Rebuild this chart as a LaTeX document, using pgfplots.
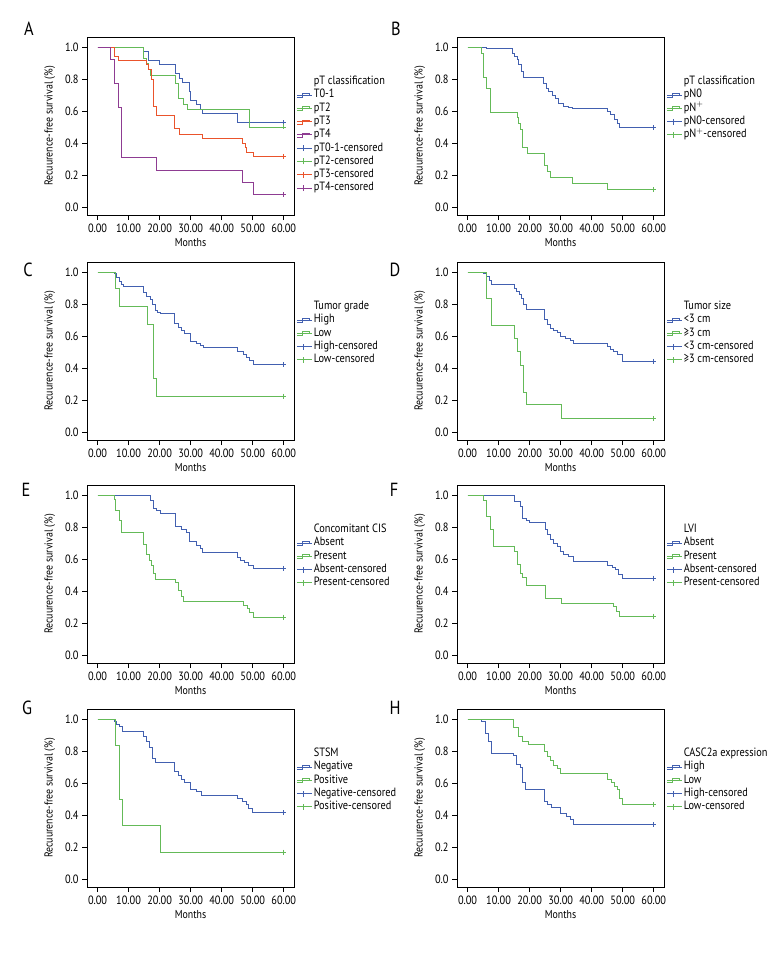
\documentclass[border=0pt]{standalone}
\usepackage{fontspec}
\setmainfont{PT Sans}[FakeStretch=0.86]
\usepackage{pgfplots}
\pgfplotsset{compat=1.18}
\definecolor{kmblue}{RGB}{66,96,176}
\definecolor{kmgreen}{RGB}{100,186,88}
\definecolor{kmred}{RGB}{234,84,44}
\definecolor{kmpurple}{RGB}{142,60,146}
\pgfplotsset{
 kmaxis/.style={scale only axis, width=207pt, height=178pt, anchor=north west,
  xmin=-3.4, xmax=63.3, ymin=-0.05, ymax=1.0625,
  xtick={0,10,20,30,40,50,60}, ytick={0,0.2,0.4,0.6,0.8,1},
  axis x line*=box, axis y line*=box,
  xtick pos=bottom, ytick pos=left, tick align=outside, major tick length=5pt,
  tick style={black, line width=0.6pt}, axis line style={black, line width=0.7pt},
  /pgf/number format/assume math mode=true,
  xticklabel style={/pgf/number format/.cd, fixed, fixed zerofill, precision=2},
  yticklabel style={/pgf/number format/.cd, fixed, fixed zerofill, precision=1},
  ticklabel style={font=\fontsize{12}{13}\selectfont},
  xlabel={Months}, ylabel={Recuurence-free survival (\%)},
  label style={font=\fontsize{11.5}{12}\selectfont},
  xlabel style={at={(axis description cs:0.5,-0.157)}, anchor=center},
  ylabel style={at={(axis description cs:-0.18,0.5)}, anchor=center},
  legend style={draw=none, fill=none, at={(axis description cs:1,1)}, anchor=north west,
   xshift=3pt, yshift=-38pt, inner sep=0pt, outer sep=0pt, column sep=0pt,
   font=\fontsize{12}{13}\selectfont,
   nodes={inner sep=1pt, text height=8.5pt, text depth=2.8pt}},
  legend cell align=left,
 },
 kmline/.style={const plot, no marks, line width=0.8pt, #1, forget plot},
 kmend/.style={only marks, mark=+, mark size=2.5pt, #1, mark options={line width=0.7pt}, forget plot},
 kmstep/.style={legend image code/.code={\path (0pt,0pt) -- (15pt,0pt); \draw[##1] (0pt,-2.5pt) -- (5pt,-2.5pt) -- (5pt,1.5pt) -- (12pt,1.5pt) -- (12pt,-0.5pt);}},
 kmcens/.style={legend image code/.code={\path (0pt,0pt) -- (15pt,0pt); \draw[##1] (0pt,0pt) -- (12pt,0pt); \draw[##1] (6pt,-3pt) -- (6pt,3pt);}},
}
\begin{document}
\begin{tikzpicture}
\useasboundingbox (0,0) rectangle (780pt,-960pt);
\tikzset{letter/.style={font=\fontsize{19}{20}\selectfont, anchor=center}}
\node[letter] at (29pt,-29pt) {A};
\node[letter] at (396pt,-29pt) {B};
\node[letter] at (28pt,-270pt) {C};
\node[letter] at (395pt,-270pt) {D};
\node[letter] at (26pt,-490pt) {E};
\node[letter] at (394pt,-490pt) {F};
\node[letter] at (27pt,-708pt) {G};
\node[letter] at (395pt,-708pt) {H};

% ---------------- A
\begin{axis}[kmaxis, at={(87pt,-37pt)}]
\addplot[kmline=kmblue] coordinates {(0,1)(14.9,0.972)(16.5,0.917)(20,0.889)(25.2,0.833)(26.5,0.806)(27.4,0.778)(29.5,0.722)(29.8,0.667)(31.9,0.639)(33,0.611)(33.8,0.583)(45,0.527)(60,0.527)};
\addplot[kmline=kmgreen] coordinates {(0,1)(14.9,0.931)(15.6,0.897)(16.3,0.862)(17.1,0.821)(25.2,0.77)(26,0.68)(27.6,0.64)(28.9,0.607)(48.8,0.5)(60,0.5)};
\addplot[kmline=kmred] coordinates {(0,1)(5.4,0.94)(6.7,0.917)(15.8,0.89)(16.5,0.86)(17.2,0.80)(18.1,0.63)(19,0.573)(24.7,0.49)(26.5,0.456)(33.8,0.43)(46.7,0.40)(47.5,0.373)(48,0.34)(50.1,0.317)(60,0.317)};
\addplot[kmline=kmpurple] coordinates {(0,1)(4.3,0.925)(5.4,0.77)(6.7,0.62)(7.7,0.31)(19,0.23)(46.7,0.154)(50.1,0.077)(60,0.077)};
\addplot[kmend=kmblue] coordinates {(60,0.527)};
\addplot[kmend=kmgreen] coordinates {(60,0.5)};
\addplot[kmend=kmred] coordinates {(60,0.317)};
\addplot[kmend=kmpurple] coordinates {(60,0.077)};
\addlegendimage{empty legend}\addlegendentry{pT classification}
\addlegendimage{kmstep, kmblue, line width=0.8pt}\addlegendentry{T0-1}
\addlegendimage{kmstep, kmgreen, line width=0.8pt}\addlegendentry{pT2}
\addlegendimage{kmstep, kmred, line width=0.8pt}\addlegendentry{pT3}
\addlegendimage{kmstep, kmpurple, line width=0.8pt}\addlegendentry{pT4}
\addlegendimage{kmcens, kmblue, line width=0.8pt}\addlegendentry{pT0-1-censored}
\addlegendimage{kmcens, kmgreen, line width=0.8pt}\addlegendentry{pT2-censored}
\addlegendimage{kmcens, kmred, line width=0.8pt}\addlegendentry{pT3-censored}
\addlegendimage{kmcens, kmpurple, line width=0.8pt}\addlegendentry{pT4-censored}
\end{axis}

% ---------------- B
\begin{axis}[kmaxis, at={(457pt,-37pt)}]
\addplot[kmline=kmblue] coordinates {(0,1)(6.2,0.99)(14.5,0.958)(15.1,0.94)(15.9,0.92)(16.5,0.89)(17.3,0.85)(18.1,0.8125)(24.5,0.77)(25.4,0.74)(26.1,0.72)(27.2,0.70)(28.3,0.68)(29.4,0.65)(31,0.63)(32.6,0.62)(33.7,0.615)(44.9,0.60)(46,0.58)(47.3,0.55)(48.2,0.52)(49,0.495)(60,0.495)};
\addplot[kmline=kmgreen] coordinates {(0,1)(4.3,0.9625)(5.2,0.8125)(6.2,0.74)(7.3,0.594)(15.9,0.5625)(16.5,0.52)(17,0.483)(17.8,0.37)(19.4,0.333)(24.7,0.26)(25.6,0.22)(26.7,0.1875)(33.7,0.15)(44.9,0.108)(60,0.108)};
\addplot[kmend=kmblue] coordinates {(60,0.495)};
\addplot[kmend=kmgreen] coordinates {(60,0.108)};
\addlegendimage{empty legend}\addlegendentry{pT classification}
\addlegendimage{kmstep, kmblue, line width=0.8pt}\addlegendentry{pN0}
\addlegendimage{kmstep, kmgreen, line width=0.8pt}\addlegendentry{pN$^{+}$}
\addlegendimage{kmcens, kmblue, line width=0.8pt}\addlegendentry{pN0-censored}
\addlegendimage{kmcens, kmgreen, line width=0.8pt}\addlegendentry{pN$^{+}$-censored}
\end{axis}

% ---------------- C
\begin{axis}[kmaxis, at={(87pt,-262pt)}]
\addplot[kmline=kmblue] coordinates {(0,1)(5.4,0.99)(6.1,0.965)(6.9,0.94)(7.7,0.92)(8.3,0.909)(14.9,0.875)(15.8,0.846)(16.9,0.826)(17.7,0.795)(18.5,0.763)(19.2,0.75)(20.3,0.739)(24.9,0.68)(26,0.656)(27,0.635)(28.1,0.618)(29.9,0.566)(31.9,0.556)(33,0.543)(34.2,0.529)(45,0.504)(46.9,0.487)(48,0.469)(49,0.45)(50.1,0.421)(60,0.421)};
\addplot[kmline=kmgreen] coordinates {(0,1)(5.9,0.896)(7,0.784)(16,0.67)(18.1,0.334)(19,0.224)(60,0.224)};
\addplot[kmend=kmblue] coordinates {(60,0.421)};
\addplot[kmend=kmgreen] coordinates {(60,0.224)};
\addlegendimage{empty legend}\addlegendentry{Tumor grade}
\addlegendimage{kmstep, kmblue, line width=0.8pt}\addlegendentry{High}
\addlegendimage{kmstep, kmgreen, line width=0.8pt}\addlegendentry{Low}
\addlegendimage{kmcens, kmblue, line width=0.8pt}\addlegendentry{High-censored}
\addlegendimage{kmcens, kmgreen, line width=0.8pt}\addlegendentry{Low-censored}
\end{axis}

% ---------------- D
\begin{axis}[kmaxis, at={(457pt,-262pt)}]
\addplot[kmline=kmblue] coordinates {(0,1)(5.2,0.99)(6.2,0.971)(7.1,0.948)(7.8,0.923)(15.1,0.898)(15.7,0.88)(16.8,0.86)(17.5,0.834)(18.1,0.799)(19.1,0.768)(24.7,0.701)(25.6,0.67)(26.7,0.65)(27.7,0.633)(28.8,0.622)(29.9,0.595)(31.5,0.585)(33.1,0.571)(34,0.554)(44.9,0.535)(46,0.519)(47.1,0.504)(48.2,0.483)(49.8,0.442)(60,0.442)};
\addplot[kmline=kmgreen] coordinates {(0,1)(6,0.834)(7.8,0.668)(15.1,0.585)(16.1,0.502)(17,0.419)(18.1,0.249)(18.9,0.17)(30.1,0.083)(60,0.083)};
\addplot[kmend=kmblue] coordinates {(60,0.442)};
\addplot[kmend=kmgreen] coordinates {(60,0.083)};
\addlegendimage{empty legend}\addlegendentry{Tumor size}
\addlegendimage{kmstep, kmblue, line width=0.8pt}\addlegendentry{<3 cm}
\addlegendimage{kmstep, kmgreen, line width=0.8pt}\addlegendentry{≥3 cm}
\addlegendimage{kmcens, kmblue, line width=0.8pt}\addlegendentry{<3 cm-censored}
\addlegendimage{kmcens, kmgreen, line width=0.8pt}\addlegendentry{≥3 cm-censored}
\end{axis}

% ---------------- E
\begin{axis}[kmaxis, at={(87pt,-485pt)}]
\addplot[kmline=kmblue] coordinates {(0,1)(17.1,0.969)(17.9,0.918)(19,0.903)(20.1,0.887)(25.1,0.804)(27,0.788)(28.7,0.767)(29.7,0.711)(31.9,0.684)(33,0.664)(33.8,0.643)(45,0.608)(46,0.594)(47.4,0.577)(48.5,0.561)(50.1,0.542)(60,0.542)};
\addplot[kmline=kmgreen] coordinates {(0,1)(5.3,0.973)(5.9,0.903)(6.9,0.841)(7.7,0.767)(14.9,0.691)(15.8,0.629)(16.6,0.592)(17.4,0.557)(18.1,0.511)(18.8,0.474)(25.2,0.454)(26,0.402)(27,0.367)(27.8,0.334)(46.9,0.313)(48.2,0.293)(49,0.264)(50.1,0.237)(60,0.237)};
\addplot[kmend=kmblue] coordinates {(60,0.542)};
\addplot[kmend=kmgreen] coordinates {(60,0.237)};
\addlegendimage{empty legend}\addlegendentry{Concomitant CIS}
\addlegendimage{kmstep, kmblue, line width=0.8pt}\addlegendentry{Absent}
\addlegendimage{kmstep, kmgreen, line width=0.8pt}\addlegendentry{Present}
\addlegendimage{kmcens, kmblue, line width=0.8pt}\addlegendentry{Absent-censored}
\addlegendimage{kmcens, kmgreen, line width=0.8pt}\addlegendentry{Present-censored}
\end{axis}

% ---------------- F
\begin{axis}[kmaxis, at={(457pt,-485pt)}]
\addplot[kmline=kmblue] coordinates {(0,1)(15.1,0.959)(17,0.928)(17.8,0.856)(18.9,0.841)(20,0.829)(25.1,0.788)(25.8,0.753)(26.7,0.722)(27.7,0.697)(28.8,0.68)(29.9,0.645)(31,0.629)(32.6,0.614)(34,0.588)(44.9,0.561)(46.6,0.546)(47.6,0.532)(48.7,0.505)(49.8,0.48)(60,0.48)};
\addplot[kmline=kmgreen] coordinates {(0,1)(5.2,0.969)(6.2,0.866)(7.3,0.784)(8.2,0.676)(15.1,0.649)(15.9,0.567)(17,0.511)(17.8,0.485)(18.9,0.433)(25.1,0.351)(30.1,0.324)(47.1,0.303)(48,0.272)(49,0.243)(60,0.243)};
\addplot[kmend=kmblue] coordinates {(60,0.48)};
\addplot[kmend=kmgreen] coordinates {(60,0.243)};
\addlegendimage{empty legend}\addlegendentry{LVI}
\addlegendimage{kmstep, kmblue, line width=0.8pt}\addlegendentry{Absent}
\addlegendimage{kmstep, kmgreen, line width=0.8pt}\addlegendentry{Present}
\addlegendimage{kmcens, kmblue, line width=0.8pt}\addlegendentry{Absent-censored}
\addlegendimage{kmcens, kmgreen, line width=0.8pt}\addlegendentry{Present-censored}
\end{axis}

% ---------------- G
\begin{axis}[kmaxis, at={(87pt,-709pt)}]
\addplot[kmline=kmblue] coordinates {(0,1)(5.4,0.983)(6.1,0.967)(6.9,0.952)(7.9,0.925)(14.9,0.89)(15.8,0.859)(16.6,0.824)(17.7,0.756)(18.7,0.731)(24.9,0.673)(26,0.646)(27,0.621)(28.1,0.605)(29.9,0.559)(31.9,0.549)(33.5,0.522)(45,0.503)(46.7,0.487)(47.8,0.466)(48.5,0.441)(49.9,0.414)(60,0.414)};
\addplot[kmline=kmgreen] coordinates {(0,1)(5.9,0.832)(7,0.5)(7.9,0.335)(20.1,0.168)(60,0.168)};
\addplot[kmend=kmblue] coordinates {(60,0.414)};
\addplot[kmend=kmgreen] coordinates {(60,0.168)};
\addlegendimage{empty legend}\addlegendentry{STSM}
\addlegendimage{kmstep, kmblue, line width=0.8pt}\addlegendentry{Negative}
\addlegendimage{kmstep, kmgreen, line width=0.8pt}\addlegendentry{Positive}
\addlegendimage{kmcens, kmblue, line width=0.8pt}\addlegendentry{Negative-censored}
\addlegendimage{kmcens, kmgreen, line width=0.8pt}\addlegendentry{Positive-censored}
\end{axis}

% ---------------- H
\begin{axis}[kmaxis, at={(457pt,-709pt)}]
\addplot[kmline=kmblue] coordinates {(0,1)(4.6,0.985)(5.7,0.9125)(6.8,0.86)(7.8,0.7875)(14.8,0.77)(15.7,0.715)(17,0.698)(17.8,0.606)(18.6,0.558)(24.7,0.485)(25.8,0.465)(26.9,0.45)(29.9,0.4125)(32,0.392)(33.1,0.375)(34,0.34)(60,0.34)};
\addplot[kmline=kmgreen] coordinates {(0,1)(14.8,0.95)(16.5,0.892)(17.8,0.86)(19.7,0.84)(24.7,0.798)(25.6,0.767)(26.7,0.742)(27.7,0.708)(28.8,0.694)(29.9,0.6625)(44.9,0.625)(46.2,0.604)(47.3,0.579)(48.2,0.558)(49,0.506)(49.8,0.465)(60,0.465)};
\addplot[kmend=kmblue] coordinates {(60,0.34)};
\addplot[kmend=kmgreen] coordinates {(60,0.465)};
\addlegendimage{empty legend}\addlegendentry{CASC2a expression}
\addlegendimage{kmstep, kmblue, line width=0.8pt}\addlegendentry{High}
\addlegendimage{kmstep, kmgreen, line width=0.8pt}\addlegendentry{Low}
\addlegendimage{kmcens, kmblue, line width=0.8pt}\addlegendentry{High-censored}
\addlegendimage{kmcens, kmgreen, line width=0.8pt}\addlegendentry{Low-censored}
\end{axis}
\end{tikzpicture}
\end{document}
